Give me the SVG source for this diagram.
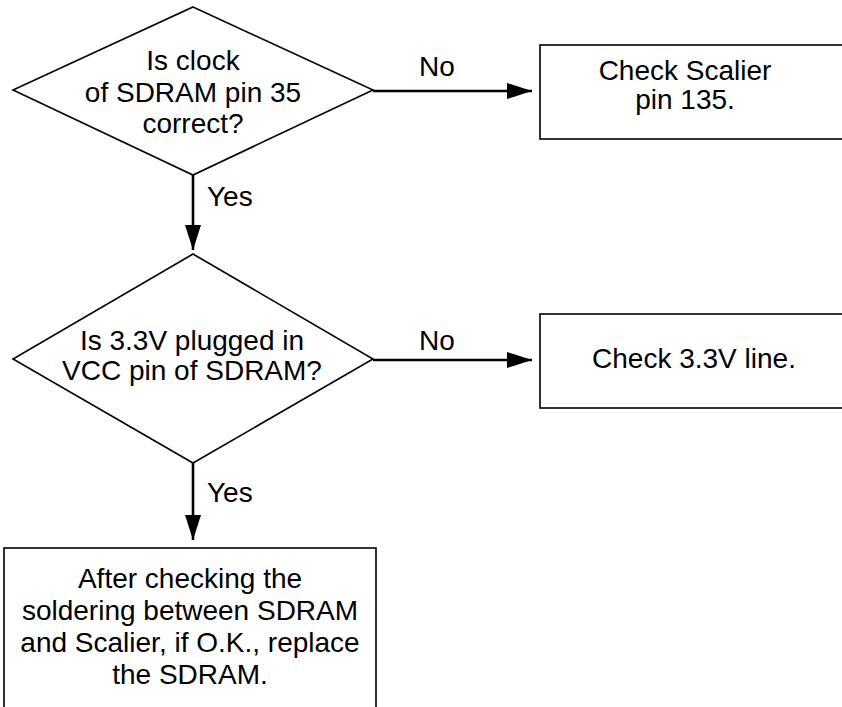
<svg xmlns="http://www.w3.org/2000/svg" width="842" height="707" viewBox="0 0 842 707">
<defs>
<marker id="ah" viewBox="0 0 25 16" refX="25" refY="8" markerWidth="25" markerHeight="16" markerUnits="userSpaceOnUse" orient="auto">
<path d="M0,0 L25,8 L0,16 Z" fill="#000"/>
</marker>
</defs>
<style>
.shape{fill:#fff;stroke:#000;stroke-width:1.6}
.conn{stroke:#000;stroke-width:2.6;fill:none}
text{font-family:"Liberation Sans",Arial,sans-serif;font-size:28px;fill:#000;text-anchor:middle}
.lbl{text-anchor:start}
</style>
<rect width="842" height="707" fill="#fff"/>
<g id="connectors">
<line class="conn" x1="373" y1="91" x2="532" y2="91" marker-end="url(#ah)"/>
<text x="437" y="76">No</text>
<line class="conn" x1="193" y1="175" x2="193" y2="250" marker-end="url(#ah)"/>
<text class="lbl" x="207" y="206">Yes</text>
<line class="conn" x1="373" y1="360" x2="532" y2="360" marker-end="url(#ah)"/>
<text x="437" y="350">No</text>
<line class="conn" x1="193" y1="463" x2="193" y2="540" marker-end="url(#ah)"/>
<text class="lbl" x="207" y="502">Yes</text>
</g>
<g id="decision1">
<polygon class="shape" points="193,7 373,90 193,175 13,90"/>
<text x="193" y="70">Is clock</text>
<text x="193" y="101.5">of SDRAM pin 35</text>
<text x="193" y="133">correct?</text>
</g>
<g id="box1">
<rect class="shape" x="540" y="45" width="320" height="94"/>
<text x="685" y="80">Check Scalier</text>
<text x="685" y="109">pin 135.</text>
</g>
<g id="decision2">
<polygon class="shape" points="193,254 373,359 193,463 13,359"/>
<text x="192" y="350">Is 3.3V plugged in</text>
<text x="192" y="380">VCC pin of SDRAM?</text>
</g>
<g id="box2">
<rect class="shape" x="540" y="314" width="320" height="94"/>
<text x="694" y="368">Check 3.3V line.</text>
</g>
<g id="box3">
<rect class="shape" x="4" y="548" width="372" height="180"/>
<text x="190" y="588">After checking the</text>
<text x="190" y="620">soldering between SDRAM</text>
<text x="190" y="652">and Scalier, if O.K., replace</text>
<text x="190" y="684">the SDRAM.</text>
</g>
</svg>
